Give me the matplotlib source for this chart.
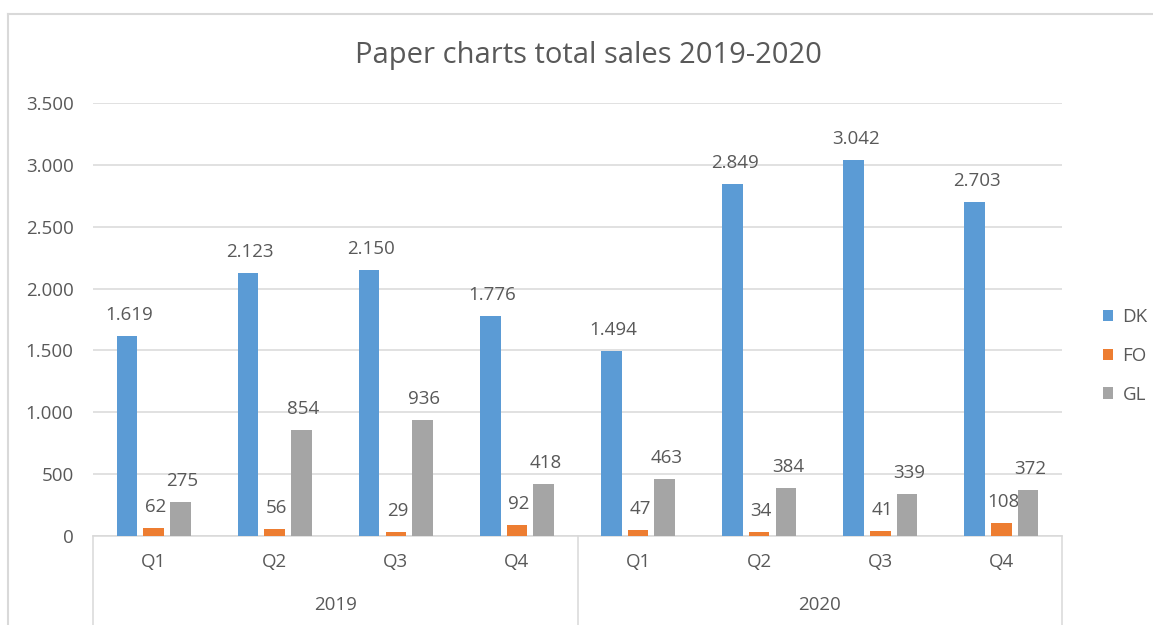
import numpy as np
import matplotlib
matplotlib.use("Agg")
import matplotlib.pyplot as plt
import matplotlib.transforms as mtransforms
from matplotlib.lines import Line2D
from matplotlib.patches import Patch

plt.rcParams['font.family'] = ['Open Sans', 'DejaVu Sans']

# data
years = ['2019', '2020']
quarters = ['Q1', 'Q2', 'Q3', 'Q4']
series = ['DK', 'FO', 'GL']
dk = [1619, 2123, 2150, 1776, 1494, 2849, 3042, 2703]
fo = [62, 56, 29, 92, 47, 34, 41, 108]
gl = [275, 854, 936, 418, 463, 384, 339, 372]
colors = ['#5B9BD5', '#ED7D31', '#A5A5A5']

TXT = '#595959'
GRID = '#D9D9D9'
FS = 13.5


def fmt(v):
    # danish style thousands separator
    return f"{int(v):,}".replace(',', '.')


fig = plt.figure(figsize=(11.53, 6.25), dpi=100)
ax = fig.add_axes([93 / 1153, 1 - 536 / 625, (1062 - 93) / 1153, (536 - 103) / 625])

n = len(dk)
x = np.arange(n) + 0.5
width = 0.17
offs = [-0.22, 0.0, 0.22]

for vals, off, col in zip([dk, fo, gl], offs, colors):
    bars = ax.bar(x + off, vals, width, color=col, zorder=3)
    for b, v in zip(bars, vals):
        ax.annotate(fmt(v), (b.get_x() + b.get_width() / 2, v),
                    xytext=(2, 21), textcoords='offset pixels',
                    ha='center', va='center', fontsize=FS, color=TXT)

ax.set_xlim(0, n)
ax.set_ylim(0, 3500)
ax.set_yticks(np.arange(0, 3501, 500))
ax.set_yticklabels([fmt(t) for t in np.arange(0, 3501, 500)])
ax.yaxis.grid(True, color=GRID, linewidth=1.1, zorder=0)
ax.tick_params(axis='y', length=0, pad=14, labelsize=FS, labelcolor=TXT)

ax.set_xticks(x)
ax.set_xticklabels(quarters * len(years))
ax.tick_params(axis='x', length=0, pad=12, labelsize=FS, labelcolor=TXT)

for side in ['top', 'right', 'left']:
    ax.spines[side].set_visible(False)
ax.spines['bottom'].set_color(GRID)
ax.spines['bottom'].set_linewidth(1.1)

# year row and separators of the grouped category axis
trans = mtransforms.blended_transform_factory(ax.transData, ax.transAxes)
for i, yr in enumerate(years):
    ax.text(i * 4 + 2, -69 / 433, yr, transform=trans, ha='center', va='center',
            fontsize=FS, color=TXT)
for xs in [0, 4, 8]:
    ax.add_line(Line2D([xs, xs], [0, -0.3], transform=trans, color=GRID,
                       linewidth=1.1, clip_on=False))

fig.text(588 / 1153, 1 - 56 / 625, 'Paper charts total sales 2019-2020',
         ha='center', va='center', fontsize=21, color=TXT)

handles = [Patch(facecolor=c) for c in colors]
fig.legend(handles, series, loc='center left', bbox_to_anchor=(1086 / 1153, 1 - 356 / 625),
           frameon=False, fontsize=FS, labelcolor=TXT, handlelength=0.55, handleheight=0.55,
           handletextpad=0.5, labelspacing=1.1)

# chart area border (only left and top visible in the crop)
fig.add_artist(Line2D([8 / 1153, 8 / 1153], [0, 1 - 14 / 625], color=GRID, linewidth=1.5))
fig.add_artist(Line2D([8 / 1153, 1], [1 - 14 / 625, 1 - 14 / 625], color=GRID, linewidth=1.5))

fig.savefig('out.png', dpi=100)
